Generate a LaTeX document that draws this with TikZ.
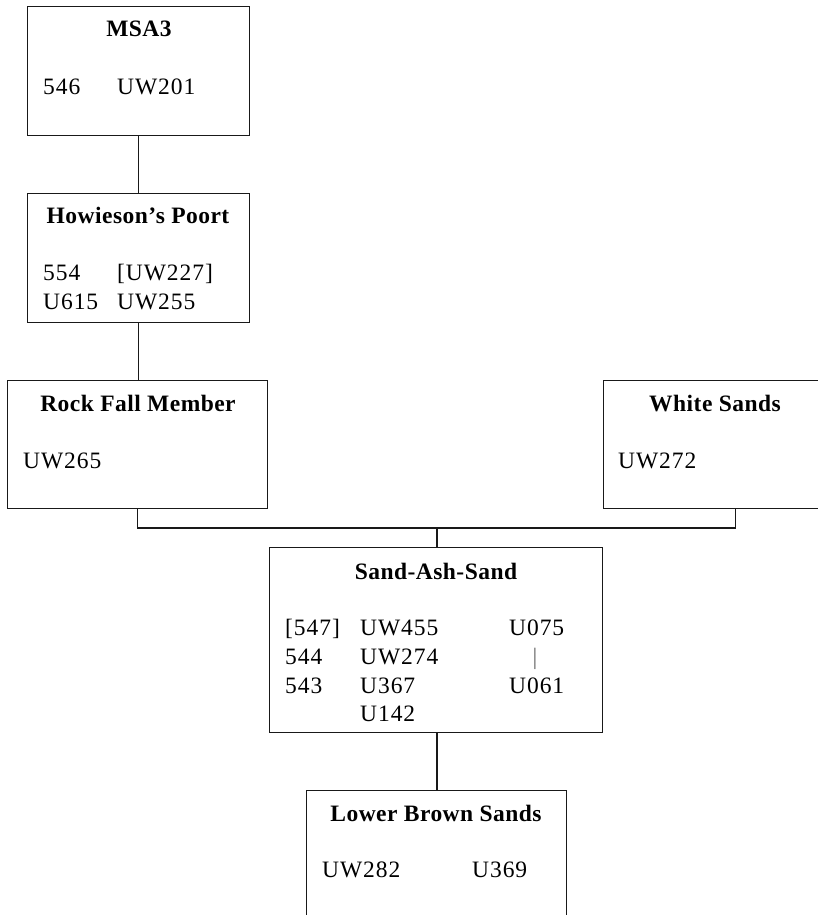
\documentclass[tikz,border=0pt]{standalone}
\usepackage{fontspec}
\setmainfont{Liberation Serif}
\newfontfamily\txtf[LetterSpace=4]{Liberation Serif}
\newfontfamily\ttlf[LetterSpace=2]{Liberation Serif}
\tikzset{
  box/.style={draw=black!90, line width=1.1pt, fill=white, anchor=north west, inner sep=0pt},
  ttl/.style={font=\ttlf\bfseries\fontsize{23.5}{28}\selectfont, anchor=base, inner sep=0pt},
  txt/.style={font=\txtf\fontsize{23.5}{28}\selectfont, anchor=base west, inner sep=0pt},
  wire/.style={draw=black!90, line width=1.1pt}
}
\begin{document}
\begin{tikzpicture}[x=1pt, y=-1pt]
\useasboundingbox (0,0) rectangle (818,915);
\clip (0,0) rectangle (818,915);
% boxes
\node[box, minimum width=222pt, minimum height=129pt] (msa) at (27,6) {};
\node[box, minimum width=222pt, minimum height=129pt] (how) at (27,193) {};
\node[box, minimum width=260pt, minimum height=128pt] (rock) at (7,380) {};
\node[box, minimum width=264pt, minimum height=128pt] (white) at (603,380) {};
\node[box, minimum width=333pt, minimum height=185pt] (sand) at (269,547) {};
\node[box, minimum width=260pt, minimum height=132pt] (lower) at (306,790) {};
% connectors
\coordinate (j) at (437,528);
\draw[wire] (msa.south) -- (how.north);
\draw[wire] (how.south) -- (how.south |- rock.north);
\draw[wire] (rock.south) |- (j) -| (white.south);
\draw[wire] (j) -- (j |- sand.north);
\draw[wire] (j |- sand.south) -- (j |- lower.north);
% MSA3
\node[ttl] (msat) at (139,37) {MSA3};
\node[txt] (msa1) at (43,95) {546};
\node[txt] (msa2) at (117,95) {UW201};
% Howieson's Poort
\node[ttl] (howt) at (138,223) {Howieson’s Poort};
\node[txt] (how1) at (43,280) {554};
\node[txt] (how2) at (117,280) {[UW227]};
\node[txt] (how3) at (43,309) {U615};
\node[txt] (how4) at (117,309) {UW255};
% Rock Fall Member
\node[ttl] (rockt) at (138,411) {Rock Fall Member};
\node[txt] (rock1) at (23,468) {UW265};
% White Sands
\node[ttl] (whitet) at (715,411) {White Sands};
\node[txt] (white1) at (618,468) {UW272};
% Sand-Ash-Sand
\node[ttl] (sandt) at (436,579) {Sand-Ash-Sand};
\node[txt] (s11) at (285,635) {[547]};
\node[txt] (s12) at (285,664) {544};
\node[txt] (s13) at (285,693) {543};
\node[txt] (s21) at (360,635) {UW455};
\node[txt] (s22) at (360,664) {UW274};
\node[txt] (s23) at (360,693) {U367};
\node[txt] (s24) at (360,721) {U142};
\node[txt] (s31) at (509,635) {U075};
\node[txt, anchor=base, text=black!60] (s32) at (535,664) {|};
\node[txt] (s33) at (509,693) {U061};
% Lower Brown Sands
\node[ttl] (lowert) at (436,821) {Lower Brown Sands};
\node[txt] (low1) at (322,877) {UW282};
\node[txt] (low2) at (472,877) {U369};
\end{tikzpicture}
\end{document}
